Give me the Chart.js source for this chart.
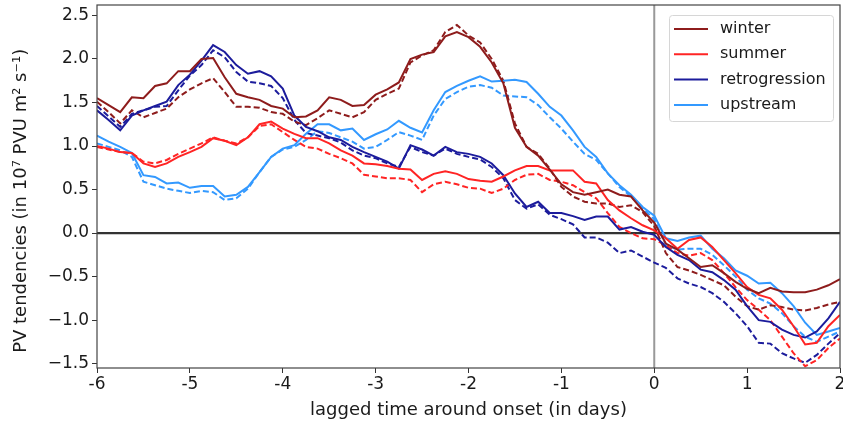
<!DOCTYPE html>
<html>
<head>
<meta charset="utf-8">
<script src="https://cdn.jsdelivr.net/npm/chart.js@4.4.0/dist/chart.umd.min.js"></script>
<style>
  html, body { margin: 0; padding: 0; background: #fff; }
  #wrap { width: 843px; height: 423px; }
</style>
</head>
<body>
<div id="wrap"><canvas id="chart" width="843" height="423"></canvas></div>
<script>
// lag in days (3-hourly steps)
const days = [
  -6, -5.875, -5.75, -5.625, -5.5, -5.375, -5.25, -5.125,
  -5, -4.875, -4.75, -4.625, -4.5, -4.375, -4.25, -4.125,
  -4, -3.875, -3.75, -3.625, -3.5, -3.375, -3.25, -3.125,
  -3, -2.875, -2.75, -2.625, -2.5, -2.375, -2.25, -2.125,
  -2, -1.875, -1.75, -1.625, -1.5, -1.375, -1.25, -1.125,
  -1, -0.875, -0.75, -0.625, -0.5, -0.375, -0.25, -0.125,
  0, 0.125, 0.25, 0.375, 0.5, 0.625, 0.75, 0.875,
  1, 1.125, 1.25, 1.375, 1.5, 1.625, 1.75, 1.875,
  2
];

const winter = [
  1.55, 1.47, 1.39, 1.56, 1.55, 1.69, 1.72, 1.86,
  1.86, 2.00, 2.01, 1.79, 1.60, 1.56, 1.53, 1.46,
  1.43, 1.33, 1.34, 1.41, 1.56, 1.53, 1.46, 1.47,
  1.59, 1.65, 1.73, 2.00, 2.05, 2.08, 2.26, 2.31,
  2.25, 2.14, 1.96, 1.72, 1.21, 0.99, 0.89, 0.73,
  0.56, 0.47, 0.44, 0.47, 0.50, 0.44, 0.42, 0.26,
  0.12, -0.12, -0.19, -0.29, -0.39, -0.37, -0.46, -0.56,
  -0.64, -0.69, -0.63, -0.67, -0.68, -0.68, -0.65, -0.60,
  -0.53
];
const winterDashed = [
  1.51, 1.39, 1.26, 1.41, 1.33, 1.38, 1.43, 1.56,
  1.65, 1.72, 1.78, 1.62, 1.45, 1.45, 1.44, 1.39,
  1.37, 1.28, 1.24, 1.32, 1.41, 1.37, 1.33, 1.39,
  1.53, 1.60, 1.66, 1.96, 2.04, 2.10, 2.31, 2.39,
  2.27, 2.19, 2.00, 1.75, 1.26, 0.99, 0.91, 0.74,
  0.53, 0.42, 0.36, 0.34, 0.34, 0.30, 0.32, 0.24,
  0.08, -0.23, -0.39, -0.43, -0.48, -0.54, -0.60, -0.73,
  -0.84, -0.88, -0.83, -0.85, -0.88, -0.89, -0.86, -0.82,
  -0.79
];
const summer = [
  1.00, 0.97, 0.93, 0.92, 0.80, 0.76, 0.80, 0.875,
  0.93, 0.99, 1.09, 1.06, 1.01, 1.10, 1.25, 1.28,
  1.20, 1.14, 1.09, 1.09, 1.03, 0.95, 0.89, 0.80,
  0.79, 0.77, 0.74, 0.73, 0.61, 0.68, 0.71, 0.68,
  0.62, 0.60, 0.59, 0.65, 0.72, 0.77, 0.77, 0.72,
  0.72, 0.72, 0.59, 0.57, 0.38, 0.26, 0.17, 0.09,
  0.03, -0.06, -0.18, -0.08, -0.05, -0.16, -0.31, -0.46,
  -0.62, -0.71, -0.75, -0.88, -1.07, -1.28, -1.26, -1.07,
  -0.94
];
const summerDashed = [
  0.99, 0.96, 0.93, 0.92, 0.82, 0.80, 0.84, 0.91,
  0.97, 1.03, 1.10, 1.06, 1.03, 1.10, 1.23, 1.25,
  1.16, 1.07, 0.99, 0.97, 0.91, 0.86, 0.80, 0.67,
  0.65, 0.63, 0.63, 0.61, 0.47, 0.56, 0.59, 0.56,
  0.52, 0.51, 0.46, 0.51, 0.61, 0.67, 0.68, 0.61,
  0.59, 0.55, 0.47, 0.40, 0.23, 0.07, 0.00, -0.06,
  -0.07, -0.14, -0.23, -0.26, -0.23, -0.31, -0.46, -0.62,
  -0.77, -0.88, -1.00, -1.19, -1.38, -1.53, -1.46, -1.32,
  -1.21
];
const retrogression = [
  1.41, 1.30, 1.18, 1.35, 1.41, 1.46, 1.51, 1.70,
  1.82, 1.98, 2.16, 2.08, 1.93, 1.83, 1.86, 1.80,
  1.66, 1.35, 1.22, 1.17, 1.10, 1.07, 0.99, 0.93,
  0.875, 0.82, 0.74, 1.01, 0.96, 0.89, 0.99, 0.93,
  0.91, 0.875, 0.80, 0.665, 0.455, 0.30, 0.36, 0.23,
  0.23, 0.195, 0.15, 0.19, 0.19, 0.04, 0.07, 0.015,
  -0.02, -0.16, -0.25, -0.31, -0.42, -0.45, -0.54, -0.65,
  -0.84, -1.00, -1.02, -1.11, -1.17, -1.20, -1.13, -0.98,
  -0.79
];
const retrogressionDashed = [
  1.46, 1.34, 1.22, 1.37, 1.41, 1.45, 1.46, 1.64,
  1.81, 1.93, 2.10, 2.02, 1.85, 1.74, 1.72, 1.69,
  1.55, 1.30, 1.15, 1.12, 1.09, 1.04, 0.95, 0.89,
  0.86, 0.80, 0.76, 0.99, 0.93, 0.89, 0.97, 0.91,
  0.875, 0.845, 0.76, 0.63, 0.38, 0.28, 0.33, 0.21,
  0.16, 0.10, -0.05, -0.05, -0.11, -0.23, -0.20, -0.27,
  -0.34, -0.40, -0.52, -0.58, -0.62, -0.69, -0.79, -0.92,
  -1.07, -1.26, -1.27, -1.38, -1.44, -1.49, -1.40, -1.27,
  -1.15
];
const upstream = [
  1.12, 1.05, 0.99, 0.92, 0.665, 0.645, 0.57, 0.58,
  0.52, 0.54, 0.54, 0.42, 0.44, 0.53, 0.70, 0.875,
  0.97, 1.01, 1.14, 1.25, 1.25, 1.18, 1.20, 1.07,
  1.135, 1.19, 1.29, 1.21, 1.155, 1.41, 1.62, 1.69,
  1.75, 1.80, 1.74, 1.75, 1.76, 1.735, 1.60, 1.45,
  1.35, 1.18, 0.99, 0.875, 0.685, 0.55, 0.44, 0.30,
  0.20, -0.06, -0.09, -0.05, -0.03, -0.18, -0.29, -0.43,
  -0.49, -0.58, -0.57, -0.69, -0.84, -1.03, -1.17, -1.13,
  -1.09
];
const upstreamDashed = [
  1.03, 0.99, 0.95, 0.875, 0.59, 0.55, 0.51, 0.485,
  0.46, 0.485, 0.47, 0.38, 0.40, 0.51, 0.70, 0.875,
  0.96, 0.99, 1.07, 1.17, 1.15, 1.10, 1.05, 0.97,
  0.99, 1.07, 1.16, 1.12, 1.07, 1.35, 1.54, 1.62,
  1.68, 1.70, 1.67, 1.58, 1.57, 1.56, 1.47, 1.33,
  1.20, 1.05, 0.91, 0.84, 0.685, 0.53, 0.42, 0.28,
  0.16, -0.14, -0.19, -0.18, -0.18, -0.25, -0.37, -0.50,
  -0.65, -0.75, -0.81, -0.92, -1.07, -1.19, -1.25, -1.19,
  -1.13
];

const xTicks = [-6, -5, -4, -3, -2, -1, 0, 1, 2];
const yTicks = [-1.5, -1.0, -0.5, 0.0, 0.5, 1.0, 1.5, 2.0, 2.5];

const seriesNames = ['winter', 'summer', 'retrogression', 'upstream'];
const seriesColors = ['#8e1c1c', '#ff2424', '#1c1c9c', '#3399ff'];
const solidSeries = [winter, summer, retrogression, upstream];
const dashedSeries = [winterDashed, summerDashed, retrogressionDashed, upstreamDashed];

const toPoints = (vals) => vals.map((v, i) => ({ x: days[i], y: v }));

const datasets = [];
seriesNames.forEach((name, i) => {
  datasets.push({
    label: name,
    data: toPoints(solidSeries[i]),
    borderColor: seriesColors[i],
    borderWidth: 2,
    pointRadius: 0,
    tension: 0,
    fill: false,
  });
});
seriesNames.forEach((name, i) => {
  datasets.push({
    label: name + ' (dashed)',
    data: toPoints(dashedSeries[i]),
    borderColor: seriesColors[i],
    borderWidth: 2,
    borderDash: [6, 3],
    pointRadius: 0,
    tension: 0,
    fill: false,
  });
});

const FONT = "'DejaVu Sans', sans-serif";

// zero lines, frame and the legend box (matplotlib style)
const framePlugin = {
  id: 'frame',
  beforeDatasetsDraw(chart) {
    const { ctx, chartArea, scales } = chart;
    const x0 = scales.x.getPixelForValue(0);
    const y0 = scales.y.getPixelForValue(0);
    ctx.save();
    ctx.strokeStyle = '#999';
    ctx.lineWidth = 2;
    ctx.beginPath();
    ctx.moveTo(x0, chartArea.top);
    ctx.lineTo(x0, chartArea.bottom);
    ctx.stroke();
    ctx.strokeStyle = '#333';
    ctx.lineWidth = 2.2;
    ctx.beginPath();
    ctx.moveTo(chartArea.left, y0);
    ctx.lineTo(chartArea.right, y0);
    ctx.stroke();
    ctx.restore();
  },
  afterDraw(chart) {
    const { ctx, chartArea } = chart;
    ctx.save();
    ctx.strokeStyle = '#444';
    ctx.lineWidth = 1.2;
    ctx.strokeRect(chartArea.left, chartArea.top, chartArea.right - chartArea.left, chartArea.bottom - chartArea.top);

    // legend
    const w = 164, h = 106;
    const bx = chartArea.right - 7 - w;
    const by = chartArea.top + 10;
    ctx.fillStyle = 'rgba(255,255,255,0.85)';
    ctx.strokeStyle = '#d6d6d6';
    ctx.lineWidth = 1;
    ctx.beginPath();
    ctx.roundRect(bx + 0.5, by + 0.5, w, h, 3);
    ctx.fill();
    ctx.stroke();
    ctx.font = '16px ' + FONT;
    ctx.textBaseline = 'middle';
    seriesNames.forEach((name, i) => {
      const yy = by + 14 + i * 25.3;
      ctx.strokeStyle = seriesColors[i];
      ctx.lineWidth = 2;
      ctx.beginPath();
      ctx.moveTo(bx + 5, yy);
      ctx.lineTo(bx + 39, yy);
      ctx.stroke();
      ctx.fillStyle = '#1a1a1a';
      ctx.fillText(name, bx + 51, yy);
    });
    ctx.restore();
  },
};

new Chart(document.getElementById('chart'), {
  type: 'line',
  data: { datasets },
  plugins: [framePlugin],
  options: {
    responsive: false,
    animation: false,
    devicePixelRatio: 1,
    layout: { padding: { top: 5, right: 3, left: 0, bottom: 0 } },
    plugins: {
      legend: { display: false },
      tooltip: { enabled: false },
    },
    scales: {
      x: {
        type: 'linear',
        min: -6,
        max: 2,
        afterBuildTicks: (axis) => { axis.ticks = xTicks.map((v) => ({ value: v })); },
        afterFit: (scale) => {
          scale.height = 55;
          scale.paddingLeft = 0;
          scale.paddingRight = 0;
        },
        ticks: {
          callback: (v) => String(v),
          color: '#1a1a1a',
          font: { family: FONT, size: 17 },
          padding: 1,
          maxRotation: 0,
          autoSkip: false,
        },
        grid: { drawOnChartArea: false, tickLength: 5, color: '#333' },
        border: { display: false },
        title: {
          display: true,
          text: 'lagged time around onset (in days)',
          color: '#1a1a1a',
          font: { family: FONT, size: 18 },
          padding: { top: 2, bottom: 2 },
        },
      },
      y: {
        type: 'linear',
        min: -1.55,
        max: 2.62,
        afterBuildTicks: (axis) => { axis.ticks = yTicks.map((v) => ({ value: v })); },
        afterFit: (scale) => {
          scale.width = 97;
          scale.paddingTop = 0;
          scale.paddingBottom = 0;
        },
        ticks: {
          callback: (v) => (v < 0 ? '\u2212' + Math.abs(v).toFixed(1) : v.toFixed(1)),
          color: '#1a1a1a',
          font: { family: FONT, size: 17 },
          padding: 3,
        },
        grid: { drawOnChartArea: false, tickLength: 5, color: '#333' },
        border: { display: false },
        title: {
          display: true,
          // trailing no-break spaces nudge the centred label down like the original
          text: 'PV tendencies (in 10\u2077 PVU m\u00b2 s\u207b\u00b9)\u00a0\u00a0\u00a0\u00a0\u00a0',
          color: '#1a1a1a',
          font: { family: FONT, size: 18 },
          padding: { top: 11, bottom: 0 },
        },
      },
    },
  },
});
</script>
</body>
</html>
